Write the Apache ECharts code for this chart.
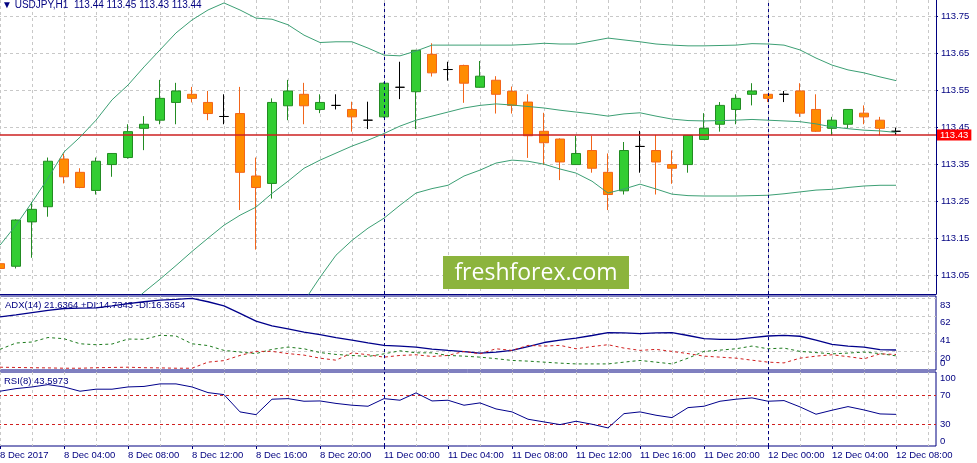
<!DOCTYPE html>
<html>
<head>
<meta charset="utf-8">
<title>USDJPY,H1</title>
<style>
    html, body { margin: 0; padding: 0; background: #fff; }
    #main { width: 977px; height: 463px; }
</style>
<script src="https://cdn.jsdelivr.net/npm/echarts@6/dist/echarts.min.js"></script>
</head>
<body>
<div id="main"></div>
<script>
// 时间轴 (57 根K线 + 右侧2个空位)
var categories = [
    '8 Dec 2017', '8 Dec 01:00', '8 Dec 02:00', '8 Dec 03:00', '8 Dec 04:00', '8 Dec 05:00',
    '8 Dec 06:00', '8 Dec 07:00', '8 Dec 08:00', '8 Dec 09:00', '8 Dec 10:00', '8 Dec 11:00',
    '8 Dec 12:00', '8 Dec 13:00', '8 Dec 14:00', '8 Dec 15:00', '8 Dec 16:00', '8 Dec 17:00',
    '8 Dec 18:00', '8 Dec 19:00', '8 Dec 20:00', '8 Dec 21:00', '8 Dec 22:00', '8 Dec 23:00',
    '11 Dec 00:00', '11 Dec 01:00', '11 Dec 02:00', '11 Dec 03:00', '11 Dec 04:00', '11 Dec 05:00',
    '11 Dec 06:00', '11 Dec 07:00', '11 Dec 08:00', '11 Dec 09:00', '11 Dec 10:00', '11 Dec 11:00',
    '11 Dec 12:00', '11 Dec 13:00', '11 Dec 14:00', '11 Dec 15:00', '11 Dec 16:00', '11 Dec 17:00',
    '11 Dec 18:00', '11 Dec 19:00', '11 Dec 20:00', '11 Dec 21:00', '11 Dec 22:00', '11 Dec 23:00',
    '12 Dec 00:00', '12 Dec 01:00', '12 Dec 02:00', '12 Dec 03:00', '12 Dec 04:00', '12 Dec 05:00',
    '12 Dec 06:00', '12 Dec 07:00', '12 Dec 08:00', '12 Dec 09:00', '12 Dec 10:00'
];
var daySeparators = ['11 Dec 00:00', '12 Dec 00:00'];

var opens = [113.082, 113.075, 113.195, 113.236, 113.365, 113.329, 113.280, 113.350, 113.369, 113.448,
    113.470, 113.518, 113.540, 113.518, 113.480, 113.488, 113.319, 113.299, 113.509, 113.540,
    113.499, 113.510, 113.499, 113.470, 113.479, 113.559, 113.547, 113.648, 113.607, 113.618,
    113.559, 113.578, 113.548, 113.519, 113.440, 113.419, 113.350, 113.388, 113.329, 113.279,
    113.399, 113.388, 113.350, 113.350, 113.418, 113.459, 113.499, 113.540, 113.540, 113.540,
    113.549, 113.499, 113.448, 113.459, 113.489, 113.470, 113.44];
var closes = [113.069, 113.200, 113.229, 113.359, 113.317, 113.288, 113.359, 113.380, 113.439, 113.459,
    113.529, 113.549, 113.529, 113.488, 113.480, 113.329, 113.288, 113.518, 113.549, 113.509,
    113.518, 113.510, 113.479, 113.470, 113.570, 113.559, 113.659, 113.598, 113.607, 113.570,
    113.589, 113.540, 113.510, 113.428, 113.409, 113.357, 113.380, 113.340, 113.269, 113.388,
    113.399, 113.357, 113.340, 113.429, 113.448, 113.510, 113.529, 113.549, 113.529, 113.540,
    113.489, 113.440, 113.470, 113.499, 113.479, 113.448, 113.44];
var lows = [113.064, 113.069, 113.098, 113.209, 113.299, 113.286, 113.269, 113.317, 113.366, 113.389,
    113.459, 113.459, 113.518, 113.470, 113.459, 113.227, 113.120, 113.258, 113.470, 113.459,
    113.489, 113.499, 113.439, 113.446, 113.477, 113.527, 113.446, 113.588, 113.577, 113.517,
    113.558, 113.488, 113.488, 113.368, 113.349, 113.308, 113.349, 113.328, 113.227, 113.269,
    113.328, 113.269, 113.298, 113.328, 113.417, 113.439, 113.459, 113.510, 113.519, 113.519,
    113.479, 113.438, 113.429, 113.448, 113.459, 113.429, 113.43];
var highs = [113.100, 113.202, 113.249, 113.369, 113.380, 113.340, 113.369, 113.381, 113.459, 113.481,
    113.579, 113.571, 113.560, 113.549, 113.540, 113.560, 113.369, 113.529, 113.579, 113.571,
    113.540, 113.540, 113.520, 113.520, 113.572, 113.628, 113.660, 113.678, 113.628, 113.620,
    113.630, 113.589, 113.561, 113.540, 113.490, 113.421, 113.428, 113.428, 113.380, 113.411,
    113.441, 113.430, 113.388, 113.430, 113.489, 113.519, 113.540, 113.570, 113.541, 113.549,
    113.570, 113.540, 113.479, 113.500, 113.510, 113.479, 113.45];

// 布林带 (null = 在图外)
var bbUpper = [113.132, 113.186, 113.248, 113.313, 113.384, 113.424, 113.470, 113.525, 113.565, 113.614,
    113.660, 113.706, 113.741, 113.768, 113.787, 113.768, 113.746, 113.743, 113.728, 113.700,
    113.680, 113.682, 113.682, 113.665, 113.646, 113.644, 113.657, 113.673, 113.673, 113.673,
    113.673, 113.673, 113.673, 113.675, 113.678, 113.676, 113.676, 113.684, 113.692, 113.687,
    113.682, 113.676, 113.673, 113.671, 113.671, 113.672, 113.673, 113.677, 113.676, 113.673,
    113.660, 113.638, 113.619, 113.606, 113.598, 113.587, 113.577];
var bbMiddle = [null, null, null, null, null, null, null, null, 112.967, 113.005,
    113.040, 113.077, 113.115, 113.151, 113.186, 113.213, 113.235, 113.272, 113.305, 113.340,
    113.362, 113.381, 113.400, 113.416, 113.434, 113.454, 113.470, 113.481, 113.492, 113.503,
    113.510, 113.514, 113.511, 113.507, 113.503, 113.497, 113.492, 113.487, 113.481, 113.487,
    113.490, 113.481, 113.473, 113.469, 113.468, 113.469, 113.470, 113.472, 113.470, 113.468,
    113.466, 113.460, 113.452, 113.447, 113.443, 113.441, 113.437];
var bbLower = [null, null, null, null, null, null, null, null, null, null,
    null, null, null, null, null, null, null, null, 112.882, 112.980,
    113.045, 113.105, 113.145, 113.178, 113.205, 113.240, 113.273, 113.285, 113.294, 113.319,
    113.335, 113.354, 113.362, 113.359, 113.351, 113.338, 113.327, 113.305, 113.273, 113.284,
    113.297, 113.284, 113.270, 113.266, 113.265, 113.265, 113.265, 113.266, 113.267, 113.271,
    113.276, 113.281, 113.283, 113.288, 113.292, 113.294, 113.294];

var adx = [60.8, 63.2, 65.9, 68.6, 70.7, 71.2, 71.5, 73.9, 76.6, 78.7,
    80.7, 81.6, 82.6, 78.7, 73.9, 65.0, 55.7, 50.1, 46.5, 42.7,
    39.8, 36.4, 33.4, 30.2, 27.1, 26.3, 25.1, 22.7, 21.2, 19.8,
    18.0, 19.2, 21.2, 25.7, 30.5, 33.4, 35.8, 38.8, 42.1, 41.8,
    40.9, 41.8, 42.1, 38.8, 35.0, 34.3, 34.3, 36.4, 38.2, 39.0,
    37.9, 33.4, 28.3, 26.3, 25.1, 22.1, 21.6364];
var plusDI = [22.4, 29.9, 31.1, 36.4, 35.0, 29.0, 27.9, 28.7, 34.6, 34.3,
    39.0, 38.2, 29.0, 26.9, 21.2, 19.2, 17.4, 22.4, 25.1, 23.1,
    18.6, 16.4, 15.2, 14.0, 17.1, 20.7, 18.3, 18.3, 15.2, 14.4,
    13.2, 11.4, 9.3, 8.5, 7.3, 6.1, 5.2, 5.2, 5.2, 7.3,
    9.3, 7.3, 5.2, 12.0, 20.0, 21.5, 23.1, 26.3, 23.1, 23.9,
    20.0, 18.6, 17.1, 18.0, 19.2, 17.4, 14.7343];
var minusDI = [1.3, 1.0, 0.7, 0.5, 0.1, 0.1, 0.7, 1.0, 1.3, 0.7,
    0.5, 0.1, 0.1, 7.3, 9.1, 15.2, 20.0, 20.0, 17.4, 15.6,
    12.0, 9.6, 18.3, 16.0, 13.2, 15.2, 16.0, 14.0, 15.2, 20.0,
    17.1, 23.1, 21.2, 27.1, 26.3, 27.1, 23.1, 25.7, 27.9, 23.9,
    21.2, 22.4, 20.0, 17.4, 14.4, 13.2, 12.0, 9.6, 7.3, 6.4,
    12.0, 14.4, 16.0, 13.8, 11.2, 17.1, 16.3654];
var rsi = [75.5, 79.1, 81.4, 84.6, 81.4, 75.5, 78.3, 78.3, 81.4, 82.1,
    85.6, 85.6, 81.4, 73.6, 70.8, 47.0, 43.2, 64.5, 65.3, 61.7,
    62.1, 58.7, 56.2, 54.8, 65.3, 63.1, 73.2, 62.1, 63.1, 56.2,
    59.4, 51.1, 47.0, 36.9, 33.2, 29.5, 34.1, 30.0, 24.9, 44.6,
    47.0, 42.4, 39.1, 52.9, 54.8, 61.7, 64.5, 66.3, 61.7, 62.6,
    53.9, 43.8, 49.3, 54.3, 49.7, 44.2, 43.5973];

// 刻度
var priceTicks = [113.05, 113.15, 113.25, 113.35, 113.45, 113.55, 113.65, 113.75];
var adxTicks = [20, 41, 62, 83];
var rsiLevels = [70, 30];
var bidPrice = [113.43];

var navy = '#000080';
var gray = '#c8c8c8';
var red = '#d02020';
var font = 'Liberation Sans';

var candleData = opens.map(function (o, i) {
    return [o, closes[i], lows[i], highs[i]];
});

function isLabelSlot(i) { return i % 4 === 0 && i < opens.length; }

function timeAxis(gridIndex, withLabels) {
    return {
        type: 'category',
        gridIndex: gridIndex,
        data: categories,
        boundaryGap: true,
        axisLine: { show: gridIndex === 0, onZero: false, lineStyle: { color: navy } },
        axisTick: { show: withLabels, alignWithLabel: true, length: 3, interval: isLabelSlot, lineStyle: { color: navy } },
        axisLabel: { show: withLabels, interval: isLabelSlot, align: 'left', margin: 4, color: navy, fontSize: 9.5, fontFamily: font },
        splitLine: {
            show: true, alignWithLabel: true,
            interval: function (i) { return i % 2 === 0; },
            lineStyle: { color: gray, type: [3, 3] }
        }
    };
}

function sideAxis(gridIndex, min, max, values, align, splitStyle) {
    return {
        type: 'value', gridIndex: gridIndex, position: 'right', min: min, max: max,
        axisLine: { show: false },
        axisTick: { show: false, customValues: values },
        axisLabel: { customValues: values, verticalAlign: align, margin: 4, color: navy, fontSize: 9.5, fontFamily: font },
        splitLine: { show: !!splitStyle, lineStyle: splitStyle || {} }
    };
}

// 日分隔线
function sepMark() {
    return {
        symbol: ['none', 'none'], silent: true, animation: false, label: { show: false },
        lineStyle: { color: navy, type: [3, 3], width: 1 },
        data: daySeparators.map(function (d) { return { xAxis: d }; })
    };
}

var gridBase = { left: -8, width: 944, outerBoundsMode: 'none', containLabel: false };

// Bid 价格线 + 红色标签
var bidAxis = sideAxis(0, 113.0, 113.795, bidPrice, 'middle', { color: '#cc2020', type: 'solid', width: 1.5 });
bidAxis.z = 3;
bidAxis.axisLabel.margin = 1;
bidAxis.axisLabel.color = '#fff';
bidAxis.axisLabel.backgroundColor = '#ff0000';
bidAxis.axisLabel.padding = [1, 3, 0, 3];
bidAxis.axisLabel.formatter = function (v) { return v.toFixed(2); };

var adxAxis = sideAxis(1, -2, 85.5, adxTicks, 'top', { color: gray, type: [3, 3] });
adxAxis.axisLabel.padding = [2, 0, 0, 0];

var myChart = echarts.init(document.getElementById('main'));
var option = {
    animation: false,
    backgroundColor: '#fff',
    textStyle: { fontFamily: font },
    title: [
        { text: '\u25BC USDJPY,H1  113.44 113.45 113.43 113.44', left: 2, top: 0, padding: 0,
          textStyle: { fontSize: 10, fontWeight: 'normal', color: navy } },
        { text: 'ADX(14) 21.6364 +DI:14.7343 -DI:16.3654', left: 5, top: 300, padding: 0,
          textStyle: { fontSize: 9.5, fontWeight: 'normal', color: navy } },
        { text: 'RSI(8) 43.5973', left: 4, top: 376, padding: 0,
          textStyle: { fontSize: 9.5, fontWeight: 'normal', color: navy } }
    ],
    graphic: [
        { type: 'rect', left: 443, top: 256, z: 1, shape: { width: 186, height: 33 }, style: { fill: '#8cb43d' } },
        { type: 'text', x: 536, y: 273, z: 3,
          style: { text: 'freshforex.com', fill: '#fff', font: '23px "Open Sans"', align: 'center', verticalAlign: 'middle' } }
    ],
    grid: [
        Object.assign({ top: 0, height: 294 }, gridBase),
        Object.assign({ top: 296, height: 74, show: true, borderColor: navy, backgroundColor: 'transparent' }, gridBase),
        Object.assign({ top: 372, height: 74, show: true, borderColor: navy, backgroundColor: 'transparent' }, gridBase)
    ],
    xAxis: [timeAxis(0, false), timeAxis(1, false), timeAxis(2, true)],
    yAxis: [
        {
            type: 'value', gridIndex: 0, position: 'right', min: 113.0, max: 113.795,
            axisLine: { show: true, lineStyle: { color: navy } },
            axisTick: { show: true, length: 2, customValues: priceTicks, lineStyle: { color: navy } },
            axisLabel: {
                customValues: priceTicks, margin: 5, color: navy, fontSize: 9.5, fontFamily: font,
                formatter: function (v) { return v.toFixed(2); }
            },
            splitLine: { show: true, lineStyle: { color: gray, type: [3, 3] } }
        },
        // ADX 窗口
        adxAxis,
        sideAxis(1, -2, 85.5, [0], 'bottom', null),
        // RSI 窗口 (70/30 水平线)
        sideAxis(2, 0, 102, rsiLevels, 'middle', { color: red, type: [3, 3], width: 1 }),
        sideAxis(2, 0, 102, [100], 'top', null),
        sideAxis(2, 0, 102, [0], 'bottom', null),
        bidAxis
    ],
    series: [
        {
            name: 'USDJPY', type: 'candlestick', xAxisIndex: 0, yAxisIndex: 0,
            data: candleData, barWidth: 10,
            itemStyle: {
                color: '#32cd32', color0: '#ff8c00',
                borderColor: '#228b22', borderColor0: '#f2651a',
                borderColorDoji: '#000000', borderWidth: 1
            },
            markLine: sepMark()
        },
        { name: 'BB upper', type: 'line', xAxisIndex: 0, yAxisIndex: 0, data: bbUpper, symbol: 'none',
          lineStyle: { color: '#3c9f74', width: 1 } },
        { name: 'BB middle', type: 'line', xAxisIndex: 0, yAxisIndex: 0, data: bbMiddle, symbol: 'none',
          lineStyle: { color: '#3c9f74', width: 1 } },
        { name: 'BB lower', type: 'line', xAxisIndex: 0, yAxisIndex: 0, data: bbLower, symbol: 'none',
          lineStyle: { color: '#3c9f74', width: 1 } },
        { name: 'ADX', type: 'line', xAxisIndex: 1, yAxisIndex: 1, data: adx, symbol: 'none',
          lineStyle: { color: '#00008b', width: 1.3 },
          markLine: sepMark() },
        { name: '+DI', type: 'line', xAxisIndex: 1, yAxisIndex: 1, data: plusDI, symbol: 'none',
          lineStyle: { color: '#1e7b1e', width: 1, type: [3, 3] } },
        { name: '-DI', type: 'line', xAxisIndex: 1, yAxisIndex: 1, data: minusDI, symbol: 'none',
          lineStyle: { color: red, width: 1, type: [3, 3] } },
        { name: 'RSI', type: 'line', xAxisIndex: 2, yAxisIndex: 3, data: rsi, symbol: 'none',
          lineStyle: { color: '#00008b', width: 1 },
          markLine: sepMark() }
    ]
};
myChart.setOption(option);
</script>
</body>
</html>
